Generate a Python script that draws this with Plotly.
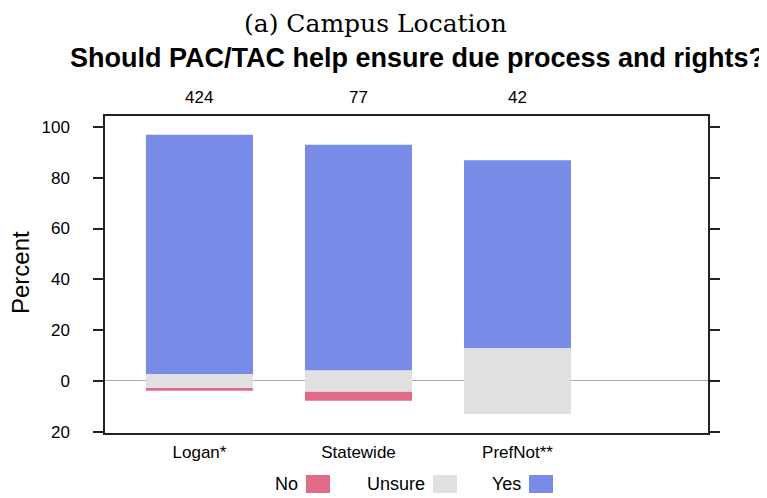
import plotly.graph_objects as go

# data (percent of respondents)
groups = ["Logan*", "Statewide", "PrefNot**"]
counts = [424, 77, 42]
pct_no = [1.1, 3.6, 0.0]
pct_unsure = [5.5, 8.4, 26.0]
pct_yes = [94.2, 88.8, 73.9]

answers = ["No", "Unsure", "Yes"]
colors = ["#E16A86", "#E0E0E0", "#778BE7"]

ytick_vals = [-20, 0, 20, 40, 60, 80, 100]

xpos = list(range(len(groups)))
half_unsure = [u / 2 for u in pct_unsure]

fig = go.Figure()
fig.add_trace(go.Bar(x=xpos, y=pct_no, base=[-h - n for h, n in zip(half_unsure, pct_no)],
                     marker_color=colors[0], name=answers[0]))
fig.add_trace(go.Bar(x=xpos, y=pct_unsure, base=[-h for h in half_unsure],
                     marker_color=colors[1], name=answers[1]))
fig.add_trace(go.Bar(x=xpos, y=pct_yes, base=half_unsure,
                     marker_color=colors[2], name=answers[2]))
fig.update_traces(width=0.673, marker_line_width=0, showlegend=False)

# page body adds 8px, so the figure is a bit smaller and all pixel spots are shifted
OFF = 8
W, H = 767 - OFF, 498 - OFF
L, R, T, B = 105 - OFF, 59, 116 - OFF, 65
pw = W - L - R
ph = H - T - B

def px(x):
    return (x - OFF - L) / pw

def py(y):
    return (H - B - (y - OFF)) / ph

fig.update_layout(
    width=W, height=H,
    margin=dict(l=L, r=R, t=T, b=B),
    paper_bgcolor="white", plot_bgcolor="white",
    barmode="overlay",
    font=dict(family="Liberation Sans, Arial, sans-serif", size=17, color="black"),
    xaxis=dict(range=[-0.594, 3.198], tickvals=xpos, ticktext=groups, ticks="",
               ticklabelstandoff=3,
               showline=True, mirror=True, linecolor="#222", linewidth=1.5,
               showgrid=False, zeroline=False, tickfont=dict(size=17)),
    yaxis=dict(range=[-20.5, 104.3], tickvals=ytick_vals,
               ticktext=[str(abs(v)) for v in ytick_vals],
               ticks="outside", ticklen=10, tickwidth=1.5, tickcolor="#222",
               ticklabelstandoff=20,
               showline=True, mirror="ticks", linecolor="#222", linewidth=1.5,
               showgrid=False, zeroline=True, zerolinecolor="#AAAAAA", zerolinewidth=1.2,
               tickfont=dict(size=17)),
)

annotations = [
    dict(text="(a) Campus Location", x=px(375), y=py(23), xref="paper", yref="paper",
         xanchor="center", yanchor="middle", showarrow=False,
         font=dict(family="DejaVu Serif, Liberation Serif, serif", size=25)),
    dict(text="<b>Should PAC/TAC help ensure due process and rights?</b>",
         x=px(417), y=py(58), xref="paper", yref="paper", xanchor="center", yanchor="middle",
         showarrow=False, font=dict(size=27)),
    dict(text="Percent", x=px(20), y=py(273), xref="paper", yref="paper",
         xanchor="center", yanchor="middle", textangle=-90, showarrow=False,
         font=dict(size=24)),
]
for xi, n in zip(xpos, counts):
    annotations.append(dict(text=str(n), x=xi, y=py(98), xref="x", yref="paper",
                            yanchor="middle", showarrow=False, font=dict(size=17)))

# legend: label on the left, colour box on the right
label_right = [300, 427, 523]
shapes = []
for lab, col, xr in zip(answers, colors, label_right):
    annotations.append(dict(text=lab, x=px(xr), y=py(484), xref="paper", yref="paper",
                            xanchor="right", yanchor="middle", showarrow=False,
                            font=dict(size=18)))
    shapes.append(dict(type="rect", xref="paper", yref="paper",
                       x0=px(xr + 6), x1=px(xr + 30), y0=py(493), y1=py(475),
                       fillcolor=col, line=dict(width=0)))

fig.update_layout(annotations=annotations, shapes=shapes)

fig.write_html("out.html")
